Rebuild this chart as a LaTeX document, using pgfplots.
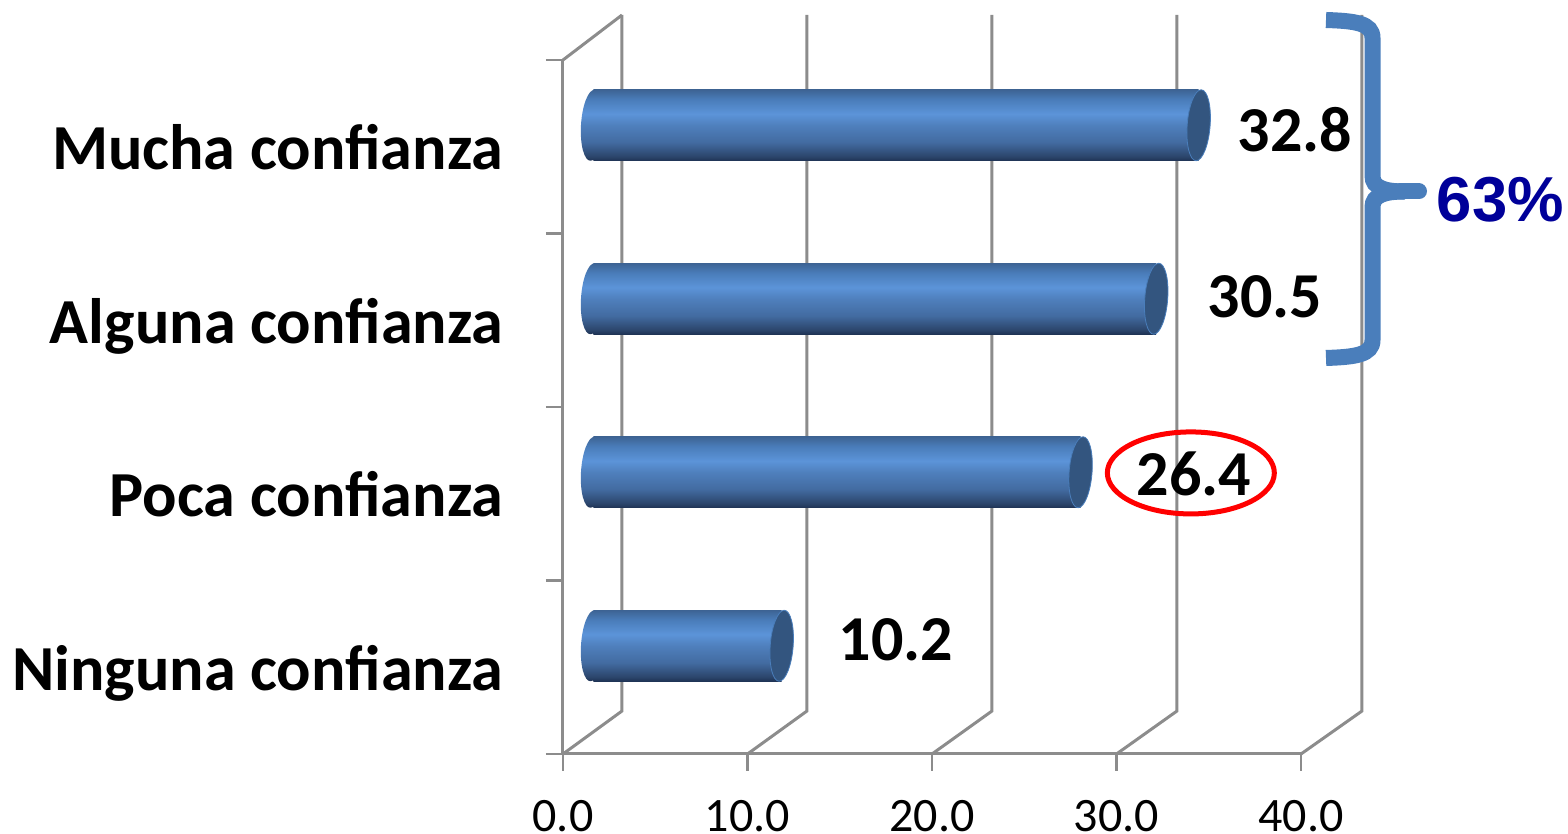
\documentclass[border=0pt]{standalone}
\usepackage{fontspec}
\setmainfont{Carlito}
\newfontfamily\arialb[Ligatures=TeX]{Liberation Sans}
\usepackage{pgfplots}
\pgfplotsset{compat=1.18}
\definecolor{gridc}{HTML}{8C8C8C}
\definecolor{capc}{HTML}{33557F}
\definecolor{edgec}{HTML}{4A7EBB}
\definecolor{brace}{HTML}{4A7EBB}
\definecolor{pct}{HTML}{000099}
\pgfdeclareverticalshading{cyl}{100bp}{
 rgb(0bp)=(0.12,0.20,0.33);
 rgb(25bp)=(0.12,0.20,0.33);
 rgb(28bp)=(0.17,0.27,0.42);
 rgb(38bp)=(0.26,0.42,0.63);
 rgb(50bp)=(0.31,0.50,0.74);
 rgb(58bp)=(0.36,0.58,0.85);
 rgb(68bp)=(0.29,0.49,0.73);
 rgb(75bp)=(0.24,0.39,0.58);
 rgb(100bp)=(0.24,0.39,0.58)}
\pgfdeclareplotmark{leftcap}{%
  \pgfpathellipse{\pgfpointorigin}{\pgfpoint{11.5pt}{0pt}}{\pgfpoint{2pt}{35.5pt}}%
  \pgfshadepath{cyl}{0}\pgfusepath{discard}}
\pgfdeclareplotmark{rightcap}{%
  \pgfpathellipse{\pgfpointorigin}{\pgfpoint{11.5pt}{0pt}}{\pgfpoint{2.5pt}{35.5pt}}%
  \pgfsetfillcolor{capc}\pgfsetstrokecolor{edgec}\pgfsetlinewidth{0.8pt}\pgfusepath{fill,stroke}}
\pgfplotsset{
  cylbar/.style={xbar, bar width=71pt, draw=none, shading=cyl, xshift=30.5pt, yshift=21.5pt},
  cylcap/.style={only marks, mark=#1, xshift=30.5pt, yshift=21.5pt},
}
\begin{document}
\begin{tikzpicture}
\path[use as bounding box] (-563pt,-80pt) rectangle (1005pt,754pt);
\begin{axis}[
  at={(0pt,0pt)}, anchor=south west,
  scale only axis, width=738pt, height=694pt,
  xmin=0, xmax=40, ymin=-0.5, ymax=3.5, clip=false,
  axis x line*=bottom, axis y line*=left,
  axis line style={draw=gridc,line width=3pt,-},
  xtick={0,10,20,30,40},
  ytick={0,1,2,3},
  yticklabels={Ninguna confianza,Poca confianza,Alguna confianza,Mucha confianza},
  tick align=outside, major tick length=17pt,
  xtick style={draw=gridc,line width=2.6pt},
  ytick style={draw=none},
  extra y ticks={-0.5,0.5,1.5,2.5,3.5},
  extra y tick labels={},
  extra y tick style={ytick style={draw=gridc,line width=2.6pt}},
  /pgf/number format/fixed, /pgf/number format/fixed zerofill, /pgf/number format/precision=1,
  /pgf/number format/assume math mode=true,
  xticklabel style={font=\fontsize{48}{50}\selectfont, inner sep=0pt, yshift=-29pt},
  yticklabel style={font=\bfseries\fontsize{64.2}{66}\selectfont, anchor=base east, xshift=-39pt, yshift=-23pt},
]
% walls
\pgfplotsinvokeforeach{0,10,20,30,40}{
  \draw[gridc,line width=3pt] (axis cs:#1,-0.5) -- ++(59pt+#1*0.05pt,43pt) -- ++(0pt,696pt);
}
\draw[gridc,line width=3pt] (axis cs:0,3.5) -- ++(59pt,45pt);
% bars
\addplot[cylcap=leftcap,xshift=-1pt] coordinates {(0,0) (0,1) (0,2) (0,3)};
\addplot[cylbar] coordinates {(10.2,0)};
\addplot[cylbar] coordinates {(26.4,1)};
\addplot[cylbar] coordinates {(30.5,2)};
\addplot[cylbar] coordinates {(32.8,3)};
\addplot[cylcap=rightcap] coordinates {(10.2,0) (26.4,1) (30.5,2) (32.8,3)};
% labels
\begin{scope}[every node/.style={inner sep=0pt,font=\bfseries\fontsize{64}{66}\selectfont}]
\node at (axis cs:39.67,3.097) {32.8};
\node at (axis cs:38.05,2.134) {30.5};
\node at (axis cs:34.2,1.114) {26.4};
\node at (axis cs:18.05,0.157) {10.2};
\end{scope}
\draw[red,line width=5pt] (axis cs:34.03,1.12) ellipse [x radius=83.5pt, y radius=41pt];
\end{axis}
\begin{scope}[x=1pt,y=-1pt,shift={(-563pt,754pt)}]
\draw[brace,line width=16pt] (1326,20) .. controls (1355,21) and (1372.5,23) .. (1372.5,38) -- (1372.5,176) .. controls (1372.5,188) and (1385,191.5) .. (1405,191.5);
\draw[brace,line width=16pt] (1326,358) .. controls (1355,357) and (1372.5,355) .. (1372.5,340) -- (1372.5,207) .. controls (1372.5,195) and (1385,191.5) .. (1405,191.5);
\draw[brace,line width=16pt,line cap=round] (1400,191.5) -- (1419,191.5);
\node[inner sep=0pt,text=pct,font=\arialb\bfseries\fontsize{63.5}{65}\selectfont] at (1500.5,200) {63\%};
\end{scope}
\end{tikzpicture}
\end{document}
